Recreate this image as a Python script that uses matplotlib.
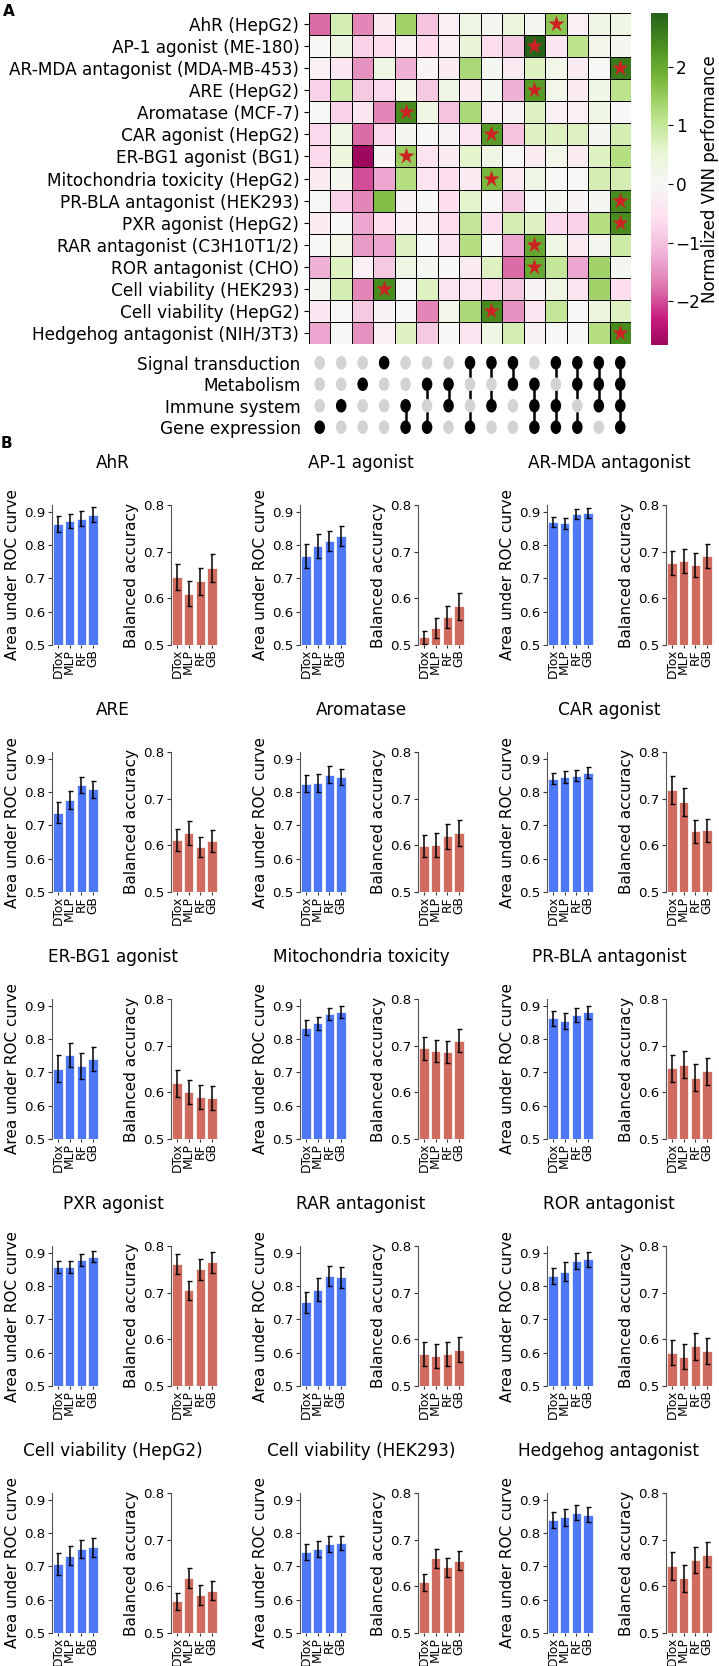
import numpy as np
import matplotlib
matplotlib.use('Agg')
import matplotlib.pyplot as plt
from matplotlib.colors import ListedColormap
from matplotlib.path import Path
from matplotlib.transforms import Affine2D

# ---- panel A data ----
tasks = ['AhR (HepG2)', 'AP-1 agonist (ME-180)', 'AR-MDA antagonist (MDA-MB-453)',
         'ARE (HepG2)', 'Aromatase (MCF-7)', 'CAR agonist (HepG2)', 'ER-BG1 agonist (BG1)',
         'Mitochondria toxicity (HepG2)', 'PR-BLA antagonist (HEK293)', 'PXR agonist (HepG2)',
         'RAR antagonist (C3H10T1/2)', 'ROR antagonist (CHO)', 'Cell viability (HEK293)',
         'Cell viability (HepG2)', 'Hedgehog antagonist (NIH/3T3)']

heat = [
    [-1.8, 0.8, -1.6, -0.3, 1.4, -1.0, -0.2, 0.3, 0.1, 0.4, 0.1, 1.6, -0.2, 0.3, 0.3],
    [0.0, 0.3, -0.8, -0.6, -0.2, -0.6, -0.2, 0.5, -0.6, -0.9, 2.92, -0.4, 1.1, 0.2, 0.1],
    [-0.2, -0.4, -1.5, 0.3, -1.2, -0.1, -0.3, 1.3, 0.1, -0.3, 0.7, 0.2, -0.3, 0.0, 2.6],
    [-0.8, 0.9, -0.9, -0.7, 0.2, -0.9, 0.3, -0.3, 0.1, -1.2, 2.2, 0.2, -0.3, 0.3, 1.1],
    [0.0, -0.8, -0.4, -1.6, 2.4, 0.3, -1.0, 1.3, -0.2, -0.1, 0.7, -0.2, -0.2, 0.3, 0.0],
    [-0.7, 0.3, -1.8, -0.7, 0.1, 0.0, -0.1, -0.5, 2.2, -1.0, 0.7, 0.7, 0.7, 0.1, 0.8],
    [-0.7, 0.4, -2.75, -0.1, 1.5, -0.5, -0.3, 0.6, 0.3, 0.0, -0.3, 0.2, -0.3, 0.7, 1.2],
    [-0.3, 0.1, -2.0, -1.3, 1.2, -0.5, -0.6, -0.3, 1.8, -0.3, 0.3, 0.0, 0.0, 0.8, 0.8],
    [0.0, -0.8, -1.6, 1.7, -0.1, 0.0, -0.6, 0.6, 0.0, -0.9, 0.0, 0.1, -0.1, 0.1, 2.4],
    [-0.3, 0.0, -1.3, -0.6, -0.2, -0.2, -0.6, 1.0, -0.6, 0.8, 0.7, -0.7, -0.8, 1.2, 2.4],
    [0.0, 0.2, -1.4, -1.3, 0.7, 0.0, -0.5, 1.2, 0.0, -1.3, 2.0, 0.3, -0.3, 0.1, 0.9],
    [-1.2, 0.7, -0.2, -0.9, 0.3, 0.1, 0.0, -0.3, 0.7, -1.8, 2.0, 1.0, -1.3, 1.4, 0.1],
    [0.1, 0.8, -1.6, 2.4, 0.0, 0.7, -0.5, -0.5, -0.6, -0.9, -0.1, 0.3, -0.5, 1.4, -0.6],
    [-0.4, 0.0, -0.9, -0.1, 0.0, -1.6, 0.2, 1.3, 2.4, -1.5, -0.5, 1.0, 0.0, 0.4, 0.7],
    [-1.3, 0.0, -1.5, -0.2, 0.7, -0.9, 0.0, -0.5, 0.3, 0.8, -0.1, 0.0, 0.0, 1.2, 2.4],
]
best_col = [11, 10, 14, 10, 4, 8, 4, 8, 14, 14, 10, 10, 3, 8, 14]

pathways = ['Signal transduction', 'Metabolism', 'Immune system', 'Gene expression']
# which pathways (index into pathways) are on for each heatmap column
combos = [[3], [2], [1], [0], [2, 3], [1, 3], [1, 2], [0, 3], [0, 2], [0, 1],
          [1, 2, 3], [0, 2, 3], [0, 1, 3], [0, 1, 2], [0, 1, 2, 3]]

# ---- panel B data ----
methods = ['DTox', 'MLP', 'RF', 'GB']
panel_titles = ['AhR', 'AP-1 agonist', 'AR-MDA antagonist', 'ARE', 'Aromatase', 'CAR agonist',
                'ER-BG1 agonist', 'Mitochondria toxicity', 'PR-BLA antagonist', 'PXR agonist',
                'RAR antagonist', 'ROR antagonist', 'Cell viability (HepG2)',
                'Cell viability (HEK293)', 'Hedgehog antagonist']
auc = [[0.862, 0.872, 0.879, 0.891], [0.767, 0.797, 0.812, 0.826], [0.870, 0.865, 0.893, 0.897],
       [0.738, 0.777, 0.821, 0.808], [0.825, 0.827, 0.852, 0.845], [0.840, 0.845, 0.849, 0.858],
       [0.711, 0.751, 0.719, 0.741], [0.834, 0.847, 0.874, 0.881], [0.862, 0.854, 0.872, 0.880],
       [0.857, 0.857, 0.878, 0.888], [0.751, 0.789, 0.829, 0.826], [0.830, 0.843, 0.875, 0.880],
       [0.708, 0.732, 0.752, 0.757], [0.743, 0.752, 0.767, 0.770], [0.838, 0.847, 0.861, 0.855]]
auc_err = [[0.024, 0.022, 0.023, 0.023], [0.035, 0.035, 0.030, 0.030], [0.015, 0.016, 0.015, 0.015],
           [0.032, 0.027, 0.024, 0.025], [0.026, 0.027, 0.025, 0.025], [0.017, 0.017, 0.017, 0.017],
           [0.040, 0.036, 0.040, 0.036], [0.023, 0.020, 0.018, 0.018], [0.023, 0.023, 0.022, 0.020],
           [0.018, 0.017, 0.017, 0.016], [0.032, 0.034, 0.030, 0.031], [0.025, 0.028, 0.025, 0.023],
           [0.033, 0.029, 0.027, 0.029], [0.023, 0.024, 0.023, 0.021], [0.024, 0.025, 0.023, 0.023]]
bacc = [[0.646, 0.610, 0.637, 0.665], [0.517, 0.537, 0.560, 0.583], [0.675, 0.680, 0.672, 0.690],
        [0.611, 0.626, 0.596, 0.609], [0.599, 0.601, 0.619, 0.626], [0.719, 0.692, 0.630, 0.632],
        [0.619, 0.601, 0.590, 0.588], [0.694, 0.689, 0.687, 0.711], [0.652, 0.659, 0.631, 0.645],
        [0.761, 0.705, 0.750, 0.765], [0.568, 0.564, 0.568, 0.578], [0.571, 0.563, 0.585, 0.575],
        [0.568, 0.618, 0.581, 0.591], [0.609, 0.660, 0.641, 0.655], [0.643, 0.617, 0.657, 0.668]]
bacc_err = [[0.028, 0.027, 0.029, 0.029], [0.014, 0.021, 0.024, 0.029], [0.026, 0.026, 0.026, 0.026],
            [0.024, 0.026, 0.022, 0.023], [0.024, 0.026, 0.026, 0.028], [0.030, 0.030, 0.025, 0.025],
            [0.029, 0.026, 0.026, 0.026], [0.025, 0.024, 0.024, 0.024], [0.029, 0.029, 0.029, 0.029],
            [0.021, 0.021, 0.023, 0.023], [0.026, 0.026, 0.026, 0.026], [0.027, 0.026, 0.029, 0.027],
            [0.018, 0.022, 0.021, 0.021], [0.018, 0.021, 0.020, 0.021], [0.030, 0.029, 0.028, 0.027]]

W, H = 719, 1666
fig = plt.figure(figsize=(W / 100, H / 100), dpi=100)


def ax_px(left, top, w, h):
    return fig.add_axes([left / W, 1 - (top + h) / H, w / W, h / H])


big = 12.2

# ---- heatmap ----
data = np.array(heat)
vmin, vmax = data.min(), data.max()
vr = max(-vmin, vmax)
cc = np.linspace((vmin + vr) / (2 * vr), (vmax + vr) / (2 * vr), 256)
cmap = ListedColormap(plt.get_cmap('PiYG')(cc))

ax = ax_px(309, 13, 322, 331)
mesh = ax.pcolormesh(data, cmap=cmap, vmin=vmin, vmax=vmax, edgecolors='black', linewidth=0.5)
ax.set_xlim(0, data.shape[1])
ax.set_ylim(data.shape[0], 0)
for i, c in enumerate(best_col):
    ax.plot(c + 0.5, i + 0.5, marker='*', ms=12.5, color='#cc2222', mec='none')
ax.set_xticks([])
ax.set_yticks(np.arange(len(tasks)) + 0.5)
ax.set_yticklabels(tasks, fontsize=big)
for s in ax.spines.values():
    s.set_visible(False)

cax = ax_px(651, 13, 17, 332)
cb = fig.colorbar(mesh, cax=cax)
cb.outline.set_visible(False)
cb.set_ticks([-2, -1, 0, 1, 2])
cax.tick_params(labelsize=big, pad=2)
cax.set_ylabel('Normalized VNN performance', fontsize=12, labelpad=0)

# ---- upset-style matrix ----
ua = ax_px(309, 352, 322, 86)
ell = Path.unit_circle().transformed(Affine2D().scale(0.78, 1.0))
for j, on in enumerate(combos):
    ys = [3 - k for k in range(4)]
    cols = ['black' if k in on else '#d3d3d3' for k in range(4)]
    if len(on) > 1:
        ua.plot([j + 0.5, j + 0.5], [3 - min(on), 3 - max(on)], color='black', lw=1.8, zorder=1)
    ua.scatter([j + 0.5] * 4, ys, s=95, marker=ell, c=cols, zorder=2, linewidths=0)
ua.set_xlim(0, len(combos))
ua.set_ylim(-0.5, 3.5)
ua.set_xticks([])
ua.set_yticks([3, 2, 1, 0])
ua.set_yticklabels(pathways, fontsize=big)
ua.tick_params(axis='y', length=0, pad=6)
for s in ua.spines.values():
    s.set_visible(False)

fig.text(3 / W, 1 - 12 / H, 'A', fontsize=11, fontweight='bold', va='center')
fig.text(1 / W, 1 - 443 / H, 'B', fontsize=11, fontweight='bold', va='center')

# ---- bar panels ----
blue, red = '#4e78f6', '#d06b5f'
auc_left = [52, 300, 547]
ba_left = [171, 418, 666]
x = np.arange(len(methods))


def bar_panel(a, vals, errs, color, top, ylabel):
    a.bar(x, vals, width=0.8, yerr=errs, color=color, edgecolor='white', linewidth=0.5,
          error_kw=dict(ecolor='black', elinewidth=1.1, capsize=1.8, capthick=1.0))
    a.set_xlim(-0.5, 3.5)
    a.set_ylim(0.5, top)
    a.set_xticks(x)
    a.set_xticklabels(methods, rotation=90, fontsize=8.8)
    a.set_ylabel(ylabel, fontsize=11, labelpad=3)
    a.tick_params(labelsize=9.6, colors='#333333', labelcolor='black', length=3, width=0.8)
    a.tick_params(axis='y', pad=2)
    a.tick_params(axis='x', labelsize=8.8, length=2, pad=1)
    for s in ['top', 'right', 'bottom']:
        a.spines[s].set_visible(False)
    a.spines['left'].set_color('#555555')
    a.spines['left'].set_linewidth(0.8)


for k, t in enumerate(panel_titles):
    r, g = divmod(k, 3)
    top = 505 + 247 * r
    a1 = ax_px(auc_left[g], top, 47, 140)
    bar_panel(a1, auc[k], auc_err[k], blue, 0.92, 'Area under ROC curve')
    a1.set_yticks([0.5, 0.6, 0.7, 0.8, 0.9])
    a2 = ax_px(ba_left[g], top, 47, 140)
    bar_panel(a2, bacc[k], bacc_err[k], red, 0.8, 'Balanced accuracy')
    a2.set_yticks([0.5, 0.6, 0.7, 0.8])
    fig.text((113 + 248 * g) / W, 1 - (463 + 247 * r) / H, t, fontsize=big,
             ha='center', va='center')

fig.savefig('out.png', dpi=100)
